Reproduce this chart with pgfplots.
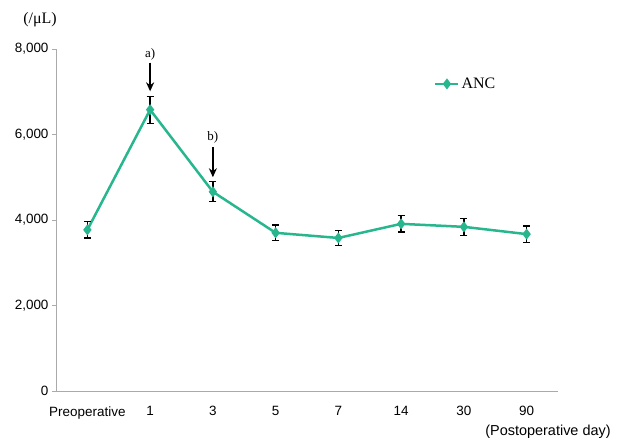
\documentclass[border=0pt]{standalone}
\usepackage{pgfplots}
\pgfplotsset{compat=1.18}
\usepackage{fontspec}
\setmainfont{Liberation Serif}
\setsansfont{Liberation Sans}
\usetikzlibrary{arrows.meta}
\definecolor{anc}{RGB}{40,182,142}
\definecolor{axgray}{RGB}{170,170,170}
\begin{document}
\begin{tikzpicture}
\useasboundingbox (-56bp,-51bp) rectangle (566bp,391bp);
\begin{axis}[
  scale only axis,
  width=502bp, height=342bp,
  at={(0,0)}, anchor=south west,
  xmin=-0.5, xmax=7.5,
  ymin=0, ymax=8000,
  axis x line=bottom, axis y line=left,
  axis line style={-, draw=axgray, line width=0.8bp},
  tick align=outside,
  major tick length=4bp, minor tick length=4bp,
  xtick={0,1,2,3,4,5,6,7},
  xticklabels={Preoperative,1,3,5,7,14,30,90},
  xtick style={draw=none},
  xticklabel style={yshift=-8bp},
  minor xtick={-0.5,0.5,1.5,2.5,3.5,4.5,5.5,6.5,7.5},
  minor tick style={draw=axgray, line width=0.8bp},
  ytick={0,2000,4000,6000,8000},
  yticklabels={0,{2,000},{4,000},{6,000},{8,000}},
  ytick style={draw=axgray, line width=0.8bp},
  ticklabel style={font=\sffamily\fontsize{13.5}{15}\selectfont},
  clip=false,
  legend style={at={(rel axis cs:0.753,0.898)}, anchor=west, draw=none, fill=none, inner sep=0pt,
    font=\fontsize{16}{18}\selectfont},
  legend image code/.code={\draw[#1, mark repeat=2, mark phase=2] plot coordinates {(0bp,0bp)(11.5bp,0bp)(23bp,0bp)};},
]
\addplot[color=anc, line width=2.5bp, mark=diamond*, mark size=3.5bp, mark options={solid, fill=anc},
  error bars/.cd, y dir=both, y explicit,
  error bar style={black, line width=1.3bp},
  error mark options={rotate=90, mark size=3.5bp, black, line width=1.3bp}]
  coordinates {
  (0,3770) +- (0,190)
  (1,6580) +- (0,315)
  (2,4660) +- (0,235)
  (3,3700) +- (0,185)
  (4,3580) +- (0,175)
  (5,3910) +- (0,190)
  (6,3840) +- (0,200)
  (7,3670) +- (0,190)
  };
\addlegendentry{ANC}
\draw[-{Stealth[length=9bp,width=8bp]}, line width=1.8bp] (axis cs:1,7680) -- (axis cs:1,7010);
\draw[-{Stealth[length=9bp,width=8bp]}, line width=1.8bp] (axis cs:2,5700) -- (axis cs:2,5000);
\node[font=\fontsize{13}{15}\selectfont] at (axis cs:1,7870) {a)};
\node[font=\fontsize{13}{15}\selectfont] at (axis cs:2,5930) {b)};
\end{axis}
\node[font=\fontsize{16}{18}\selectfont] at (-16bp,371bp) {(/μL)};
\node[font=\sffamily\fontsize{14.5}{16}\selectfont] at (492bp,-41bp) {(Postoperative day)};
\end{tikzpicture}
\end{document}
